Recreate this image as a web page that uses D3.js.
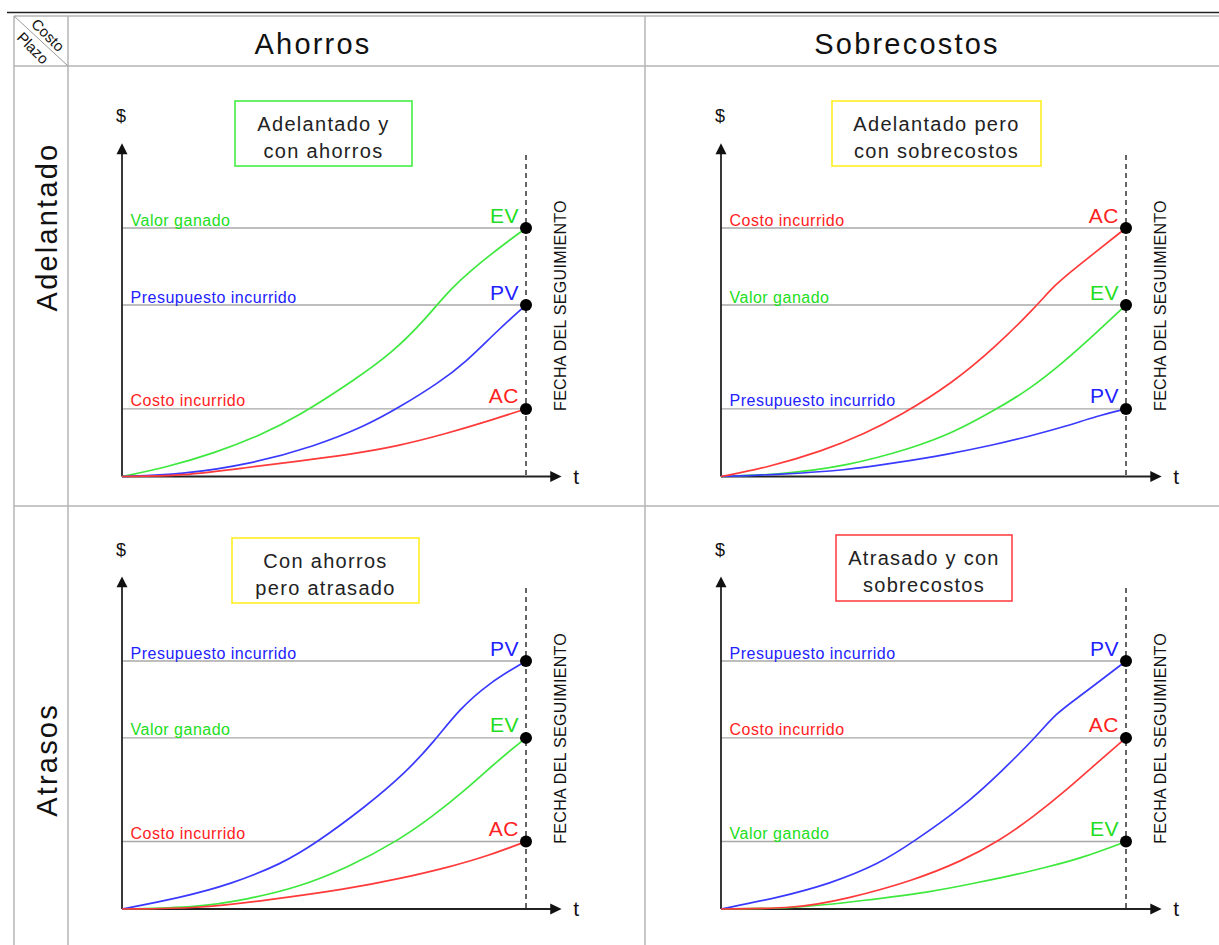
<!DOCTYPE html>
<html><head><meta charset="utf-8">
<script src="https://cdn.jsdelivr.net/npm/d3@7"></script>
<style>
html,body{margin:0;padding:0;background:#fff;}
svg{display:block;font-family:"Liberation Sans",Arial,sans-serif;}
</style></head>
<body>
<svg id="chart" width="1219" height="945"></svg>
<script>
// ---------- data ----------
const colHeaders = ["Ahorros", "Sobrecostos"];
const rowHeaders = ["Adelantado", "Atrasos"];
const cornerLabels = ["Costo", "Plazo"];
const boxTitles = [["Adelantado y", "con ahorros"], ["Adelantado pero", "con sobrecostos"],
                   ["Con ahorros", "pero atrasado"], ["Atrasado y con", "sobrecostos"]];
const seriesKeys = ["EV", "PV", "AC"];
const seriesNames = ["Valor ganado", "Presupuesto incurrido", "Costo incurrido"];
const axisLabels = ["$", "t", "FECHA DEL SEGUIMIENTO"];

// [t, value] points ; t = fraction of time to status date, value = % of top level
const adelAhorroEV = [[0,0],[0.106,3.5],[0.23,9.5],[0.337,16.2],[0.437,24.2],[0.577,39],[0.668,49.7],[0.75,63],[0.816,76.4],[0.915,89.8],[1,100]];
const adelAhorroPV = [[0,0],[0.148,0.8],[0.313,4.8],[0.478,12.2],[0.601,20.2],[0.684,27.6],[0.783,37.6],[0.849,45.7],[0.931,59],[1,69]];
const adelAhorroAC = [[0,0],[0.148,0.2],[0.313,3.7],[0.437,6.2],[0.56,8.8],[0.684,12.2],[0.808,17.5],[0.89,21.5],[1,27.2]];

const adelSobreEV = [[0,0],[0.144,0.8],[0.309,4.1],[0.474,11.5],[0.572,17.5],[0.679,27],[0.761,35],[0.844,45.7],[0.926,57.7],[1,69]];
const adelSobrePV = [[0,0],[0.144,0.8],[0.309,2.5],[0.432,5.5],[0.556,8.8],[0.679,12.9],[0.761,16.2],[0.852,20.2],[0.926,24.2],[1,27.2]];
const adelSobreAC = [[0,0],[0.111,3.5],[0.251,10.2],[0.358,17.5],[0.44,24.2],[0.572,37.6],[0.679,52.3],[0.778,68.4],[0.82,76.4],[0.868,83],[1,100]];

const atrAhorroEV = [[0,0],[0.188,0.6],[0.312,4],[0.436,8.7],[0.56,16.8],[0.684,27.6],[0.766,37],[0.849,47.8],[0.931,60],[1,69]];
const atrAhorroPV = [[0,0],[0.148,4.7],[0.271,10.1],[0.395,18.2],[0.478,26.3],[0.601,41],[0.7,54.6],[0.775,68],[0.833,80.2],[0.907,91],[1,100]];
const atrAhorroAC = [[0,0],[0.188,0.2],[0.354,3.4],[0.56,8.1],[0.684,12.1],[0.808,16.8],[0.907,21.5],[1,27.2]];

const atrSobreEV = [[0,0],[0.185,0.2],[0.35,3.4],[0.514,6.7],[0.638,10.8],[0.737,14.2],[0.802,16.8],[0.885,20.2],[1,27.2]];
const atrSobrePV = [[0,0],[0.144,4.7],[0.268,10.1],[0.391,18.2],[0.474,27],[0.597,41],[0.696,56],[0.778,69.4],[0.827,78.9],[0.885,85.6],[1,100]];
const atrSobreAC = [[0,0],[0.185,0.2],[0.309,4],[0.474,11.4],[0.597,19.5],[0.688,27.6],[0.77,37],[0.852,47.8],[0.926,58.6],[1,69]];

const panelSeries = [
  [adelAhorroEV, adelAhorroPV, adelAhorroAC],
  [adelSobreEV, adelSobrePV, adelSobreAC],
  [atrAhorroEV, atrAhorroPV, atrAhorroAC],
  [atrSobreEV, atrSobrePV, atrSobreAC]
];

// ---------- styles / layout ----------
const lineColors = {EV: "#3ee83e", PV: "#3a3aff", AC: "#ff3a3a"};
const textColors = {EV: "#22dd22", PV: "#2222ff", AC: "#ff2222"};
const boxColors = ["#44ee44", "#ffee22", "#ffee22", "#ff4444"];
const boxGeom = [
  {x: 235, y: 101, w: 177, h: 65},
  {x: 832, y: 101, w: 209, h: 65},
  {x: 232, y: 538, w: 187, h: 65},
  {x: 836, y: 535, w: 176, h: 66}
];
const colX = [{x0: 122, x1: 526}, {x0: 721, x1: 1126}];
const rowY = [{bottom: 476.5, top: 228}, {bottom: 909, top: 661}];

const svg = d3.select("#chart");
const gridC = "#b4b4b4";

// top rule
svg.append("line").attr("x1", 7).attr("x2", 1219).attr("y1", 12.5).attr("y2", 12.5)
  .attr("stroke", "#222").attr("stroke-width", 1.6);

// table grid
[16, 66, 506].forEach(y => svg.append("line").attr("x1", 14).attr("x2", 1219)
  .attr("y1", y).attr("y2", y).attr("stroke", gridC).attr("stroke-width", 1.5));
[14, 68, 645].forEach(x => svg.append("line").attr("x1", x).attr("x2", x)
  .attr("y1", 16).attr("y2", 945).attr("stroke", gridC).attr("stroke-width", 1.5));
svg.append("line").attr("x1", 14).attr("y1", 16).attr("x2", 68).attr("y2", 66)
  .attr("stroke", "#999").attr("stroke-width", 1);

// corner labels
svg.append("text").attr("transform", "translate(47,36) rotate(45)")
  .attr("text-anchor", "middle").attr("dominant-baseline", "middle")
  .attr("font-size", 15).attr("fill", "#111").text(cornerLabels[0]);
svg.append("text").attr("transform", "translate(32,49) rotate(45)")
  .attr("text-anchor", "middle").attr("dominant-baseline", "middle")
  .attr("font-size", 15).attr("fill", "#111").text(cornerLabels[1]);

// headers
const headerX = [313, 907];
colHeaders.forEach((h, i) => svg.append("text").attr("x", headerX[i]).attr("y", 54)
  .attr("text-anchor", "middle").attr("font-size", 29).attr("letter-spacing", 2.2)
  .attr("fill", "#111").text(h));
const rowLabelY = [227, 760];
rowHeaders.forEach((h, i) => svg.append("text")
  .attr("transform", `translate(57,${rowLabelY[i]}) rotate(-90)`)
  .attr("text-anchor", "middle").attr("font-size", 29).attr("letter-spacing", 2.2)
  .attr("fill", "#111").text(h));

// panels
const lineGen = (x, y) => d3.line().x(d => x(d[0])).y(d => y(d[1])).curve(d3.curveBasis);

panelSeries.forEach((series, p) => {
  const c = colX[p % 2], r = rowY[Math.floor(p / 2)];
  const x = d3.scaleLinear().domain([0, 1]).range([c.x0, c.x1]);
  const y = d3.scaleLinear().domain([0, 100]).range([r.bottom, r.top]);
  const g = svg.append("g");

  // reference lines at end values
  const ends = series.map(s => s[s.length - 1][1]);
  ends.forEach(v => g.append("line").attr("x1", x(0)).attr("x2", x(1))
    .attr("y1", y(v)).attr("y2", y(v)).attr("stroke", "#a8a8a8").attr("stroke-width", 1.4));

  // dashed status-date line
  g.append("line").attr("x1", x(1)).attr("x2", x(1)).attr("y1", y(129.4)).attr("y2", y(0))
    .attr("stroke", "#333").attr("stroke-width", 1.5).attr("stroke-dasharray", "5,4");

  // axes
  g.append("line").attr("x1", x(0)).attr("x2", x(1.062)).attr("y1", y(0)).attr("y2", y(0))
    .attr("stroke", "#222").attr("stroke-width", 1.8);
  g.append("path").attr("d", `M${x(1.06)},${y(0) - 5.5}L${x(1.088)},${y(0)}L${x(1.06)},${y(0) + 5.5}Z`)
    .attr("fill", "#111");
  g.append("line").attr("x1", x(0)).attr("x2", x(0)).attr("y1", y(0)).attr("y2", y(130))
    .attr("stroke", "#222").attr("stroke-width", 1.8);
  g.append("path").attr("d", `M${x(0) - 5.5},${y(129.7)}L${x(0)},${y(134.1)}L${x(0) + 5.5},${y(129.7)}Z`)
    .attr("fill", "#111");

  // axis labels
  g.append("text").attr("x", x(0) - 1).attr("y", y(142.5)).attr("text-anchor", "middle")
    .attr("font-size", 18).attr("fill", "#111").text(axisLabels[0]);
  g.append("text").attr("x", x(1.124)).attr("y", y(0) + 7).attr("text-anchor", "middle")
    .attr("font-size", 21).attr("fill", "#111").text(axisLabels[1]);
  g.append("text").attr("transform", `translate(${x(1.099)},${y(68.8)}) rotate(-90)`)
    .attr("text-anchor", "middle").attr("font-size", 16).attr("letter-spacing", 0.3)
    .attr("fill", "#111").text(axisLabels[2]);

  // curves
  series.forEach((s, i) => {
    g.append("path").datum(s).attr("d", lineGen(x, y)).attr("fill", "none")
      .attr("stroke", lineColors[seriesKeys[i]]).attr("stroke-width", 1.7);
  });

  // labels and end dots
  series.forEach((s, i) => {
    const k = seriesKeys[i], v = s[s.length - 1][1];
    g.append("text").attr("x", x(0) + 8.5).attr("y", y(v) - 2.5)
      .attr("font-size", 16).attr("letter-spacing", 0.5).attr("fill", textColors[k])
      .text(seriesNames[i]);
    g.append("text").attr("x", x(1) - 7).attr("y", y(v) - 5.5).attr("text-anchor", "end")
      .attr("font-size", 21).attr("letter-spacing", 0.5).attr("fill", textColors[k]).text(k);
    g.append("circle").attr("cx", x(1)).attr("cy", y(v)).attr("r", 6).attr("fill", "#000");
  });

  // title box
  const b = boxGeom[p];
  g.append("rect").attr("x", b.x).attr("y", b.y).attr("width", b.w).attr("height", b.h)
    .attr("fill", "#fff").attr("stroke", boxColors[p]).attr("stroke-width", 1.6);
  boxTitles[p].forEach((t, j) => g.append("text").attr("x", b.x + b.w / 2)
    .attr("y", b.y + 29.5 + j * 27.5).attr("text-anchor", "middle")
    .attr("font-size", 20).attr("letter-spacing", 1.3).attr("fill", "#222").text(t));
});
</script>
</body></html>
